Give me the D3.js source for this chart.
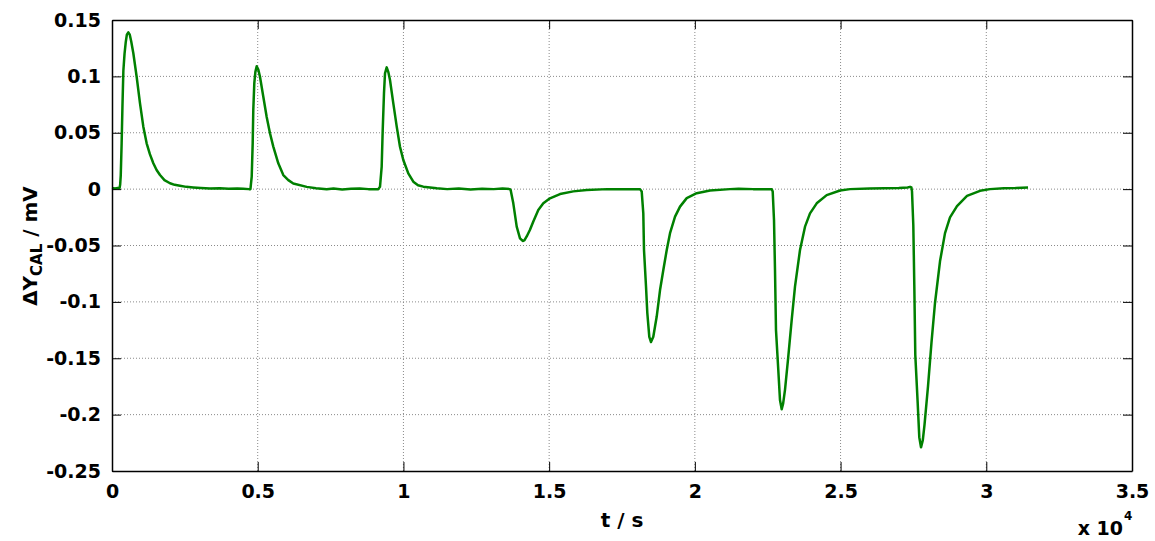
<!DOCTYPE html>
<html>
<head>
<meta charset="utf-8">
<script src="https://cdn.jsdelivr.net/npm/d3@7"></script>
<style>
  html, body { margin: 0; padding: 0; background: #fff; }
  svg { display: block; }
  text { font-family: "DejaVu Sans", "Liberation Sans", Arial, sans-serif; font-weight: bold; fill: #000; }
</style>
</head>
<body>
<svg id="chart" width="1155" height="541"></svg>
<script>
// ---- data (t in seconds, ΔY_CAL in mV) ----
const tValues = [
  0, 100, 200, 260, 280, 300, 330, 360, 390, 430, 470, 510, 560, 610, 660, 732, 846, 961, 1075, 1189, 1300, 1418, 1530, 1647, 1800, 1990, 2150, 2333, 2550, 2790, 3050, 3362, 3700, 4000, 4300, 4505, 4700,
  4750, 4794, 4828, 4848, 4883, 4920, 4965, 5020, 5078, 5192, 5308, 5421, 5535, 5706, 5878, 6050, 6221, 6681, 7000, 7367, 7600, 7900, 8200, 8500, 8800, 9138,
  9196, 9254, 9289, 9333, 9368, 9426, 9480, 9539, 9653, 9770, 9882, 9996, 10167, 10339, 10500, 10682, 11142, 11500, 11900, 12300, 12700, 13100, 13400, 13657,
  13681, 13770, 13887, 14000, 14093, 14150, 14230, 14343, 14457, 14628, 14800, 15029, 15373, 15829, 16289, 17000, 17600, 18118,
  18176, 18231, 18255, 18324, 18369, 18437, 18495, 18574, 18691, 18805, 18918, 19035, 19148, 19320, 19491, 19721, 20064, 20520, 21206, 21500, 22000, 22637,
  22671, 22716, 22750, 22784, 22863, 22921, 22980, 23030, 23093, 23206, 23323, 23436, 23608, 23780, 23951, 24181, 24524, 24981, 25324, 26000, 26500, 27000, 27300, 27383, 27430,
  27451, 27496, 27530, 27564, 27643, 27701, 27760, 27820, 27880, 28000, 28120, 28240, 28412, 28584, 28755, 28995, 29338, 29784, 30127, 30600, 31000, 31432
];
const yValues = [
  0.001, 0.0005, 0.001, 0.001, 0.004, 0.012, 0.04, 0.075, 0.105, 0.12, 0.13, 0.137, 0.139, 0.137, 0.131, 0.1205, 0.0997, 0.076, 0.0554, 0.0406, 0.031, 0.0229, 0.017, 0.0125, 0.008, 0.0052, 0.0038, 0.003, 0.002, 0.0015, 0.001, 0.0005, 0.0008, 0.0003, 0.0005, 0.0003, 0.0,
  0.0, 0.011, 0.041, 0.070, 0.094, 0.104, 0.109, 0.106, 0.0997, 0.082, 0.064, 0.0495, 0.0377, 0.0229, 0.0125, 0.008, 0.005, 0.002, 0.0008, -0.0002, 0.0005, -0.0003, 0.0003, 0.0006, 0.0, 0.0,
  0.002, 0.020, 0.0524, 0.085, 0.1027, 0.108, 0.104, 0.0968, 0.076, 0.0554, 0.0376, 0.0258, 0.014, 0.0066, 0.0035, 0.0022, 0.0007, 0.0, 0.0005, -0.0003, 0.0004, 0.0, 0.0006, 0.0,
  -0.001, -0.0126, -0.0333, -0.0436, -0.046, -0.0455, -0.042, -0.036, -0.0287, -0.0185, -0.0126, -0.0082, -0.0044, -0.002, -0.0008, 0.0, 0.0, 0.0,
  -0.002, -0.0215, -0.054, -0.0865, -0.110, -0.131, -0.1356, -0.131, -0.113, -0.0895, -0.0717, -0.054, -0.0391, -0.0244, -0.0155, -0.008, -0.0036, -0.0012, 0.0, 0.0003, 0.0, 0.0,
  -0.002, -0.0274, -0.0717, -0.125, -0.1604, -0.187, -0.1953, -0.19, -0.178, -0.1486, -0.116, -0.0865, -0.054, -0.0333, -0.0215, -0.0126, -0.0053, -0.0012, 0.0, 0.0005, 0.0008, 0.001, 0.0015, 0.002, 0.0015,
  -0.002, -0.032, -0.085, -0.147, -0.188, -0.22, -0.229, -0.223, -0.209, -0.175, -0.136, -0.101, -0.064, -0.039, -0.025, -0.015, -0.006, -0.0015, 0.0, 0.0008, 0.001, 0.0015
];
const xTickValues = [0, 5000, 10000, 15000, 20000, 25000, 30000, 35000];
const xTickLabels = ["0", "0.5", "1", "1.5", "2", "2.5", "3", "3.5"];
const yTickValues = [0.15, 0.1, 0.05, 0, -0.05, -0.1, -0.15, -0.2, -0.25];
const yTickLabels = ["0.15", "0.1", "0.05", "0", "-0.05", "-0.1", "-0.15", "-0.2", "-0.25"];

// ---- layout ----
const svg = d3.select("#chart");
const L = 112, R = 1132, T = 20, B = 471;
const x = d3.scaleLinear().domain([0, 35000]).range([L, R]);
const y = d3.scaleLinear().domain([-0.25, 0.15]).range([B, T]);

// grid
const grid = svg.append("g").attr("stroke", "#8a8a8a").attr("stroke-width", 1).attr("stroke-dasharray", "1,2").attr("fill", "none");
xTickValues.forEach(v => {
  if (v > 0 && v < 35000) grid.append("line").attr("x1", x(v)).attr("x2", x(v)).attr("y1", T).attr("y2", B);
});
yTickValues.forEach(v => {
  if (v > -0.25 && v < 0.15) grid.append("line").attr("x1", L).attr("x2", R).attr("y1", y(v)).attr("y2", y(v));
});

// data line
const pts = tValues.map((t, i) => [t, yValues[i]]);
svg.append("path")
  .datum(pts)
  .attr("fill", "none")
  .attr("stroke", "#008000")
  .attr("stroke-width", 2.5)
  .attr("stroke-linejoin", "round")
  .attr("d", d3.line().x(d => x(d[0])).y(d => y(d[1])));

// axes (inward ticks, MATLAB box style)
const tk = 9;
const fmtX = (d, i) => xTickLabels[i];
const fmtY = (d, i) => yTickLabels[i];
const axB = svg.append("g").attr("transform", `translate(0,${B})`)
  .call(d3.axisBottom(x).tickValues(xTickValues).tickFormat(fmtX).tickSizeInner(-tk).tickSizeOuter(0).tickPadding(14));
const axT = svg.append("g").attr("transform", `translate(0,${T})`)
  .call(d3.axisTop(x).tickValues(xTickValues).tickFormat("").tickSizeInner(-tk).tickSizeOuter(0));
const axL = svg.append("g").attr("transform", `translate(${L},0)`)
  .call(d3.axisLeft(y).tickValues(yTickValues).tickFormat(fmtY).tickSizeInner(-tk).tickSizeOuter(0).tickPadding(11));
const axR = svg.append("g").attr("transform", `translate(${R},0)`)
  .call(d3.axisRight(y).tickValues(yTickValues).tickFormat("").tickSizeInner(-tk).tickSizeOuter(0));
[axB, axT, axL, axR].forEach(a => {
  a.selectAll("path.domain").attr("stroke", "#000").attr("stroke-width", 1.5);
  a.selectAll(".tick line").attr("stroke", "#000").attr("stroke-width", 1);
  a.selectAll("text").attr("font-family", null).attr("font-size", 19).attr("fill", "#000");
});

// axis labels
svg.append("text").attr("x", (L + R) / 2).attr("y", 527).attr("text-anchor", "middle").attr("font-size", 20).text("t / s");

const yl = svg.append("text").attr("transform", "translate(37,246) rotate(-90)").attr("text-anchor", "middle").attr("font-size", 20);
yl.append("tspan").text("ΔY");
yl.append("tspan").attr("dy", 5).attr("font-size", 15).text("CAL");
yl.append("tspan").attr("dy", -5).text(" / mV");

svg.append("text").attr("x", 1123).attr("y", 535).attr("text-anchor", "end").attr("font-size", 19).text("x 10");
svg.append("text").attr("x", 1124).attr("y", 520).attr("font-size", 12).text("4");
</script>
</body>
</html>
